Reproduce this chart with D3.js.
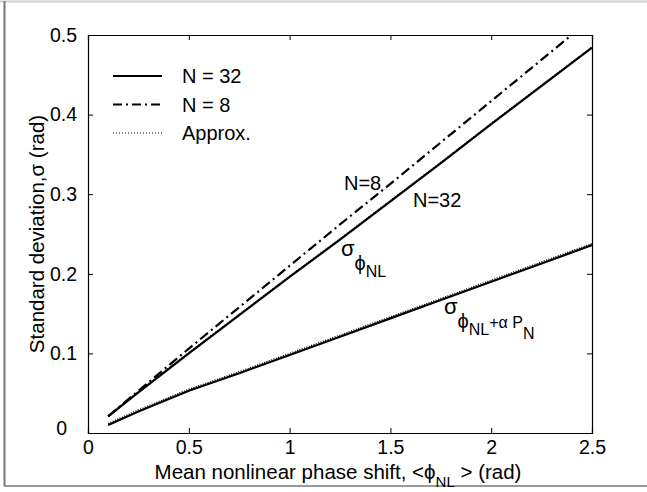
<!DOCTYPE html>
<meta charset="utf-8">
<head>
<style>
 body { margin: 0; background: #fff; }
 svg text { font-family: "Liberation Sans", Arial, sans-serif; fill: #000; }
 .tick text { font-size: 19.5px; }
 .lbl { font-size: 20.5px; }
 .legend text { font-size: 20px; }
 .note { font-size: 20px; }
</style>
</head>
<body>
<svg width="647" height="492"></svg>
<script src="https://cdnjs.cloudflare.com/ajax/libs/d3/7.8.5/d3.min.js"></script>
<script>
  // values
  var phi      = [0.1, 0.25, 0.5, 0.75, 1.0, 1.25, 1.5, 1.75, 2.0, 2.25, 2.5];
  var sigN32   = [0.021, 0.051, 0.100, 0.148, 0.196, 0.243, 0.291, 0.339, 0.388, 0.436, 0.484];
  var sigN8    = [0.021, 0.053, 0.106, 0.158, 0.210, 0.262, 0.313, 0.365, 0.417, 0.469, 0.521];
  var sigLow   = [0.010, 0.027, 0.053, 0.075, 0.098, 0.121, 0.144, 0.167, 0.190, 0.213, 0.236];
  var apxHigh  = [0.021, 0.051, 0.100, 0.148, 0.196, 0.243, 0.291, 0.339, 0.388, 0.436, 0.484];
  var apxLow   = [0.010, 0.027, 0.053, 0.075, 0.098, 0.121, 0.144, 0.167, 0.190, 0.213, 0.236];
  var xTicks   = [0, 0.5, 1, 1.5, 2, 2.5];
  var yTicks   = [0, 0.1, 0.2, 0.3, 0.4, 0.5];
  var legendNames = ["N = 32", "N = 8", "Approx."];

  var svg = d3.select('svg');
  var margin = { top: 35, left: 88, bottom: 59, right: 55 };
  var width = 647, height = 492;
  var x = d3.scaleLinear().domain([0, 2.5]).range([margin.left, width - margin.right]);
  var y = d3.scaleLinear().domain([0, 0.5]).range([height - margin.bottom, margin.top]);

  // outer frame of the picture
  svg.append('line').attr('x1', 0).attr('x2', width).attr('y1', 1.5).attr('y2', 1.5)
     .attr('stroke', '#d0d0d0').attr('stroke-width', 2);
  svg.append('line').attr('x1', 4.5).attr('x2', 4.5).attr('y1', 1).attr('y2', 486)
     .attr('stroke', '#777').attr('stroke-width', 2);
  svg.append('line').attr('x1', 4).attr('x2', width).attr('y1', 486).attr('y2', 486)
     .attr('stroke', '#777').attr('stroke-width', 1.5);

  svg.append('clipPath').attr('id', 'clip').append('rect')
     .attr('x', x(0)).attr('y', y(0.5)).attr('width', x(2.5) - x(0)).attr('height', y(0) - y(0.5));

  // axes, ticks inside
  var gx = svg.append('g').attr('transform', 'translate(0,' + y(0) + ')')
     .call(d3.axisBottom(x).tickValues(xTicks).tickSize(-5).tickPadding(7).tickFormat(d3.format('')));
  var gy = svg.append('g').attr('transform', 'translate(' + x(0) + ',0)')
     .call(d3.axisLeft(y).tickValues(yTicks).tickSize(-5).tickPadding(11).tickFormat(d3.format('')));
  svg.append('g').attr('transform', 'translate(0,' + y(0.5) + ')')
     .call(d3.axisTop(x).tickValues(xTicks).tickSize(-5).tickFormat(''));
  svg.append('g').attr('transform', 'translate(' + x(2.5) + ',0)')
     .call(d3.axisRight(y).tickValues(yTicks).tickSize(-5).tickFormat(''));
  svg.selectAll('.domain').attr('stroke', '#000').attr('stroke-width', 1.2);
  svg.selectAll('.tick line').attr('stroke', '#000');
  gy.selectAll('.tick').filter(function(d) { return d === 0; }).select('text').attr('dx', '-10').attr('dy', '0.1em');

  var line = d3.line().x(function(d, i) { return x(phi[i]); }).y(function(d) { return y(d); });
  var plot = svg.append('g').attr('clip-path', 'url(#clip)');
  plot.append('path').attr('d', line(sigN32)).attr('fill', 'none').attr('stroke', '#000').attr('stroke-width', 2.2);
  plot.append('path').attr('d', line(sigN8)).attr('fill', 'none').attr('stroke', '#000').attr('stroke-width', 2.2)
      .attr('stroke-dasharray', '10,4,2,4');
  plot.append('path').attr('d', line(sigLow)).attr('fill', 'none').attr('stroke', '#000').attr('stroke-width', 2.2);
  plot.append('path').attr('d', line(apxHigh)).attr('fill', 'none').attr('stroke', '#000').attr('stroke-width', 1)
      .attr('stroke-dasharray', '1,2').attr('transform', 'translate(0,-1.2)');
  plot.append('path').attr('d', line(apxLow)).attr('fill', 'none').attr('stroke', '#000').attr('stroke-width', 1.3)
      .attr('stroke-dasharray', '1,1.5').attr('transform', 'translate(0,-1.6)');

  // legend
  var lg = svg.append('g').attr('class', 'legend');
  var dashes = [null, '9,4,2,4', '1,2'];
  legendNames.forEach(function(name, i) {
    var yy = 76 + i * 28.5;
    lg.append('line').attr('x1', 113).attr('x2', 162).attr('y1', yy).attr('y2', yy)
      .attr('stroke', '#000').attr('stroke-width', i === 2 ? 1 : 2.2)
      .attr('stroke-dasharray', dashes[i]);
    lg.append('text').attr('x', 182).attr('y', yy + 7).text(name);
  });

  // curve annotations
  svg.append('text').attr('class', 'note').attr('x', 344).attr('y', 190).text('N=8');
  svg.append('text').attr('class', 'note').attr('x', 413).attr('y', 207).text('N=32');

  var a1 = svg.append('text').attr('class', 'note').attr('x', 341).attr('y', 256);
  a1.append('tspan').attr('font-size', 22).text('σ');
  a1.append('tspan').attr('dy', 14).text('ϕ');
  a1.append('tspan').attr('dy', 7).attr('font-size', 16).text('NL');

  var a2 = svg.append('text').attr('class', 'note').attr('x', 444).attr('y', 314);
  a2.append('tspan').attr('font-size', 22).text('σ');
  a2.append('tspan').attr('dy', 14).text('ϕ');
  a2.append('tspan').attr('dy', 7).attr('font-size', 16).text('NL');
  a2.append('tspan').attr('dy', -7).attr('font-size', 16).text('+α P');
  a2.append('tspan').attr('dy', 11).attr('font-size', 16).text('N');

  // axis titles
  var xl = svg.append('text').attr('class', 'lbl').attr('x', (x(0) + x(2.5)) / 2 - 2).attr('y', 479)
     .attr('text-anchor', 'middle');
  xl.append('tspan').text('Mean nonlinear phase shift, <ϕ');
  xl.append('tspan').attr('dy', 8).attr('font-size', 15).text('NL');
  xl.append('tspan').attr('dy', -8).text(' > (rad)');

  svg.append('text').attr('class', 'lbl').attr('text-anchor', 'middle')
     .attr('transform', 'translate(44,' + (y(0) + y(0.5)) / 2 + ') rotate(-90)')
     .text('Standard deviation,σ (rad)');
</script>
</body>
</html>
